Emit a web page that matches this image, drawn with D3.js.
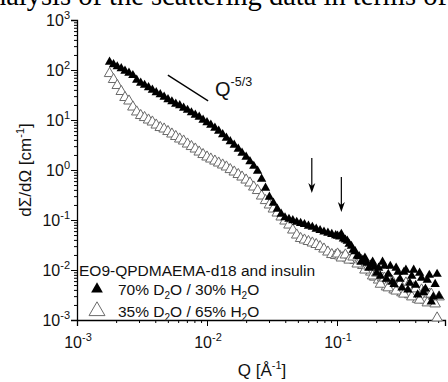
<!DOCTYPE html>
<html>
<head>
<meta charset="utf-8">
<script src="https://cdn.jsdelivr.net/npm/d3@7/dist/d3.min.js"></script>
<style>
  body { margin: 0; background: #fff; }
  svg { display: block; font-family: "Liberation Sans", Arial, sans-serif; }
</style>
</head>
<body>
<svg id="chart" width="448" height="382"></svg>
<script>
// scattering vector Q [1/A]
const q = [0.00178,0.00191,0.00204,0.00219,0.00234,0.00251,0.00269,0.00288,0.00309,0.00331,
  0.00355,0.00380,0.00407,0.00437,0.00468,0.00501,0.00537,0.00575,0.00617,0.00661,
  0.00708,0.00759,0.00813,0.00871,0.00933,0.0100,0.0107,0.0115,0.0123,0.0132,
  0.0141,0.0151,0.0162,0.0174,0.0186,0.0200,0.0214,0.0229,0.0245,0.0263,
  0.0282,0.0302,0.0324,0.0347,0.0372,0.0398,0.0427,0.0457,0.0490,0.0525,
  0.0562,0.0603,0.0646,0.0692,0.0741,0.0794,0.0851,0.0912,0.0977,0.105,
  0.112,0.120,0.129,0.138,0.148,0.158,0.170,0.182,0.195,0.209,
  0.224,0.240,0.257,0.275,0.295,0.316,0.339,0.363,0.389,0.417,
  0.447,0.479,0.513,0.550,0.589];
// 70% D2O / 30% H2O
const i70 = [145,129,117,107,95.5,87,78,63,55,50,
  44.7,39.8,35.5,32.4,28.8,25.7,23.4,20.9,19.5,17.4,
  15.8,14.1,12.6,11.5,10.0,8.9,7.94,6.92,6.03,5.13,
  4.37,3.72,3.16,2.63,2.19,1.82,1.48,1.20,0.955,0.661,
  0.437,0.288,0.219,0.166,0.132,0.112,0.104,0.098,0.091,0.086,
  0.082,0.076,0.072,0.066,0.062,0.058,0.055,0.052,0.049,0.046,
  0.042,0.038,0.030,0.0235,0.0188,0.0158,0.0138,0.0126,0.0115,0.0110,
  0.0145,0.0066,0.0120,0.0052,0.0091,0.0044,0.0100,0.0055,0.0100,0.0032,
  0.0069,0.0042,0.0079,0.0029,0.0083];
// 35% D2O / 65% H2O
const i35 = [85,64.6,49,37.2,28.2,24,18.2,14.5,12.3,11.2,
  10.0,9.12,7.94,7.08,6.61,5.89,5.25,4.68,4.17,3.80,
  3.31,2.95,2.63,2.29,2.04,1.82,1.66,1.51,1.38,1.26,
  1.15,1.02,0.912,0.813,0.724,0.631,0.550,0.457,0.389,0.302,
  0.245,0.200,0.166,0.138,0.115,0.0955,0.0794,0.0631,0.0501,0.0427,
  0.0398,0.0372,0.0347,0.0324,0.0295,0.0263,0.0229,0.0204,0.0195,0.0191,
  0.0182,0.0174,0.0166,0.0155,0.0141,0.0123,0.0105,0.0091,0.0072,0.0063,
  0.0069,0.0046,0.0066,0.0040,0.0055,0.0035,0.0055,0.0032,0.0044,0.0026,
  0.0040,0.0025,0.0033,0.0023,0.0011];

// second (high-Q) detector setting
const qHigh = [0.101,0.108,0.116,0.124,0.133,0.143,0.153,0.164,0.176,0.188,
  0.202,0.216,0.232,0.248,0.266,0.285,0.305,0.327,0.351,0.376,
  0.403,0.432,0.462,0.495,0.531,0.569,0.610];
const i70High = [0.048,0.052,0.040,0.033,0.025,0.019,0.0145,0.0174,0.011,0.0145,
  0.0087,0.0076,0.012,0.0083,0.0058,0.011,0.0066,0.0091,0.0040,0.0076,
  0.0050,0.0087,0.0036,0.0063,0.0023,0.0052,0.0030];
const i35High = [0.0209,0.0174,0.0200,0.0158,0.0182,0.0132,0.0158,0.0100,0.0120,0.0076,
  0.0087,0.0052,0.0069,0.0044,0.0060,0.0038,0.0052,0.0033,0.0048,0.0029,
  0.0042,0.0025,0.0036,0.0022,0.0033,0.0021,0.0029];

const xMajor = [1e-3, 1e-2, 1e-1];
const yMajor = [1e-3, 1e-2, 1e-1, 1e0, 1e1, 1e2, 1e3];
const legendTitle = "EO9-QPDMAEMA-d18 and insulin";
const arrowsQ = [0.064, 0.108];

const svg = d3.select("#chart");

// fragment of the paper text above the figure
svg.append("text")
  .attr("x", 447).attr("y", 5)
  .attr("text-anchor", "end")
  .style("font-family", "'Liberation Serif', 'Times New Roman', serif")
  .style("font-size", "28.5px")
  .text("analysis of the scattering data in terms of");

const x = d3.scaleLog().domain([1e-3, Math.pow(10, -3 + 368 / 130)]).range([77, 445]);
const y = d3.scaleLog().domain([1e-3, 1e3]).range([320, 20]);

function minorTicks(lo, hi) {
  const out = [];
  for (let e = lo; e < hi; e++)
    for (let m = 2; m <= 9; m++) out.push(m * Math.pow(10, e));
  return out;
}

const gx = svg.append("g").attr("transform", `translate(0,${y.range()[0]})`);
gx.call(d3.axisBottom(x).tickValues(xMajor).tickSize(6).tickFormat(""));
gx.append("g").call(d3.axisBottom(x).tickValues(minorTicks(-3, 0).filter(v => v <= x.domain()[1])).tickSize(3).tickFormat(""))
  .select(".domain").remove();

const gy = svg.append("g").attr("transform", `translate(${x.range()[0]},0)`);
gy.call(d3.axisLeft(y).tickValues(yMajor).tickSize(6).tickFormat(""));
gy.append("g").call(d3.axisLeft(y).tickValues(minorTicks(-3, 3)).tickSize(3).tickFormat(""))
  .select(".domain").remove();

svg.selectAll(".domain").attr("stroke", "#000").attr("stroke-width", 1.3);
svg.selectAll(".tick line").attr("stroke", "#000").attr("stroke-width", 1);

// power labels
function powLabel(g, base, exp, ax, ay, anchor) {
  const t = g.append("text").attr("x", ax).attr("y", ay)
    .attr("text-anchor", anchor).style("font-size", "16px").attr("fill", "#111");
  t.append("tspan").text(base);
  t.append("tspan").attr("dy", -7).style("font-size", "11px").text(exp);
  return t;
}
xMajor.forEach(v => powLabel(svg, "10", String(Math.round(Math.log10(v))), x(v) + 1, 348, "middle"));
yMajor.forEach(v => powLabel(svg, "10", String(Math.round(Math.log10(v))), 70, y(v) + 6, "end"));

// axis titles
const xt = svg.append("text").attr("x", 262).attr("y", 376).attr("text-anchor", "middle")
  .style("font-size", "17px").attr("fill", "#111");
xt.append("tspan").text("Q [Å");
xt.append("tspan").attr("dy", -7).style("font-size", "11px").text("-1");
xt.append("tspan").attr("dy", 7).text("]");

const yt = svg.append("text").attr("transform", "translate(31,170) rotate(-90)")
  .attr("text-anchor", "middle").style("font-size", "17px").attr("fill", "#111");
yt.append("tspan").text("dΣ/dΩ [cm");
yt.append("tspan").attr("dy", -7).style("font-size", "11px").text("-1");
yt.append("tspan").attr("dy", 7).text("]");

// data
const openTri = d3.symbol().type(d3.symbolTriangle).size(48);
const fullTri = d3.symbol().type(d3.symbolTriangle).size(38);
const pts35 = q.map((v, k) => [v, i35[k]]).concat(qHigh.map((v, k) => [v, i35High[k]]));
const pts70 = q.map((v, k) => [v, i70[k]]).concat(qHigh.map((v, k) => [v, i70High[k]]));

svg.append("g").selectAll("path").data(pts35)
  .join("path")
  .attr("d", openTri)
  .attr("transform", d => `translate(${x(d[0])},${y(d[1])})`)
  .attr("fill", "#fff").attr("stroke", "#6a6a6a").attr("stroke-width", 1);

svg.append("g").selectAll("path").data(pts70)
  .join("path")
  .attr("d", fullTri)
  .attr("transform", d => `translate(${x(d[0])},${y(d[1])})`)
  .attr("fill", "#000");

// Q^-5/3 guide
svg.append("line")
  .attr("x1", x(0.0050)).attr("y1", y(79))
  .attr("x2", x(0.0102)).attr("y2", y(79 * Math.pow(0.0102 / 0.0050, -5 / 3)))
  .attr("stroke", "#000").attr("stroke-width", 1.3);
const qt = svg.append("text").attr("x", 215).attr("y", 96).style("font-size", "20px").attr("fill", "#111");
qt.append("tspan").text("Q");
qt.append("tspan").attr("dy", -10).style("font-size", "12.5px").text("-5/3");

// arrows
const arrowTops = [158, 177];
arrowsQ.forEach((v, k) => {
  const ax = x(v), top = arrowTops[k], bot = top + 35;
  svg.append("line").attr("x1", ax).attr("x2", ax).attr("y1", top).attr("y2", bot - 3)
    .attr("stroke", "#000").attr("stroke-width", 1.2);
  svg.append("path").attr("d", `M${ax - 3.5},${bot - 10} L${ax},${bot} L${ax + 3.5},${bot - 10} L${ax},${bot - 7} Z`)
    .attr("fill", "#000");
});

// legend
svg.append("text").attr("x", 79).attr("y", 276).style("font-size", "15.5px").attr("fill", "#111").text(legendTitle);
const rows = [
  { sym: fullTri, fill: "#000", stroke: "none", a: "70", b: "30" },
  { sym: openTri, fill: "#fff", stroke: "#6a6a6a", a: "35", b: "65" }
];
rows.forEach((r, k) => {
  const cy = 289 + k * 22;
  svg.append("path").attr("d", d3.symbol().type(d3.symbolTriangle).size(k ? 110 : 60)())
    .attr("transform", `translate(97,${cy})`).attr("fill", r.fill).attr("stroke", r.stroke);
  const t = svg.append("text").attr("x", 118).attr("y", cy + 6).style("font-size", "15.5px").attr("fill", "#111");
  t.append("tspan").text(`${r.a}% D`);
  t.append("tspan").attr("dy", 4).style("font-size", "10px").text("2");
  t.append("tspan").attr("dy", -4).text(`O / ${r.b}% H`);
  t.append("tspan").attr("dy", 4).style("font-size", "10px").text("2");
  t.append("tspan").attr("dy", -4).text("O");
});
</script>
</body>
</html>
